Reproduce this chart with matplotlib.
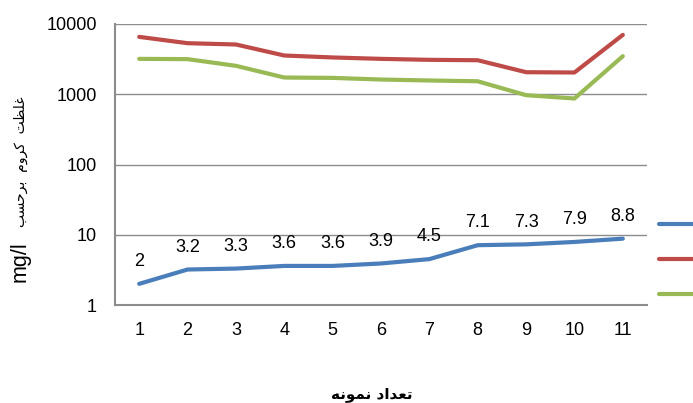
import matplotlib.pyplot as plt
import numpy as np

samples = ['1', '2', '3', '4', '5', '6', '7', '8', '9', '10', '11']
blue_vals = [2, 3.2, 3.3, 3.6, 3.6, 3.9, 4.5, 7.1, 7.3, 7.9, 8.8]
red_vals = [6560, 5330, 5110, 3560, 3340, 3190, 3090, 3050, 2060, 2040, 7000]
green_vals = [3190, 3160, 2540, 1730, 1710, 1620, 1570, 1530, 970, 870, 3480]

# persian text, pre-shaped (presentation forms) and in visual order
xlabel_fa = '\uFEEA\uFEE7\uFEEE\uFEE4\uFEE7 \uFEA9\uFE8D\uFEAA\uFECC\uFE97'
ylabel_fa = '\uFE90\uFEB4\uFEA3\uFEAE\uFE91  \uFEE1\uFEED\uFEAE\uFB90  \uFE96\uFEC8\uFEE0\uFECF'

plt.rcParams['font.family'] = ['Liberation Sans', 'DejaVu Sans']

fig = plt.figure(figsize=(6.93, 4.03), dpi=100)
ax = fig.add_axes([115/693, 1 - 305/403, (647 - 115)/693, (305 - 24)/403])

x = np.arange(len(samples))
l1, = ax.plot(x, blue_vals, color='#4a7ebb', lw=3, solid_capstyle='round')
l2, = ax.plot(x, red_vals, color='#be4b48', lw=3, solid_capstyle='round')
l3, = ax.plot(x, green_vals, color='#98b954', lw=3, solid_capstyle='round')

for xi, v in zip(x, blue_vals):
    ax.annotate(f'{v:g}', xy=(xi, v), xytext=(0, 16), textcoords='offset points',
                ha='center', va='center', fontsize=13)

ax.set_yscale('log')
ax.set_ylim(1, 10000)
ax.set_xlim(-0.5, len(samples) - 0.5)
ax.set_xticks(x)
ax.set_xticklabels(samples)
ax.set_yticks([1, 10, 100, 1000, 10000])
ax.set_yticklabels(['1', '10', '100', '1000', '10000'])
ax.minorticks_off()
ax.tick_params(length=0, labelsize=13)
ax.tick_params(axis='x', pad=12)
ax.tick_params(axis='y', pad=13)

ax.grid(axis='y', color='#8c8c8c', lw=1)
ax.set_axisbelow(True)
for s in ['top', 'right']:
    ax.spines[s].set_visible(False)
for s in ['left', 'bottom']:
    ax.spines[s].set_color('#8c8c8c')
    ax.spines[s].set_linewidth(1.5)

fig.text(372/693, 1 - 394/403, xlabel_fa, ha='center', va='center',
         fontsize=11, fontweight='bold', family='DejaVu Sans')
fig.text(21/693, 1 - 162/403, ylabel_fa, ha='center', va='center',
         fontsize=10, rotation=90, family='DejaVu Sans')
fig.text(20/693, 1 - 262/403, 'mg/l', ha='center', va='center',
         fontsize=15.5, rotation=90)

ax.legend([l1, l2, l3], ['', '', ''], loc='center left',
          bbox_to_anchor=(1.005, 0.16), frameon=False, handlelength=3.2,
          labelspacing=1.5, borderaxespad=0.3)

fig.savefig('out.png', dpi=100)
